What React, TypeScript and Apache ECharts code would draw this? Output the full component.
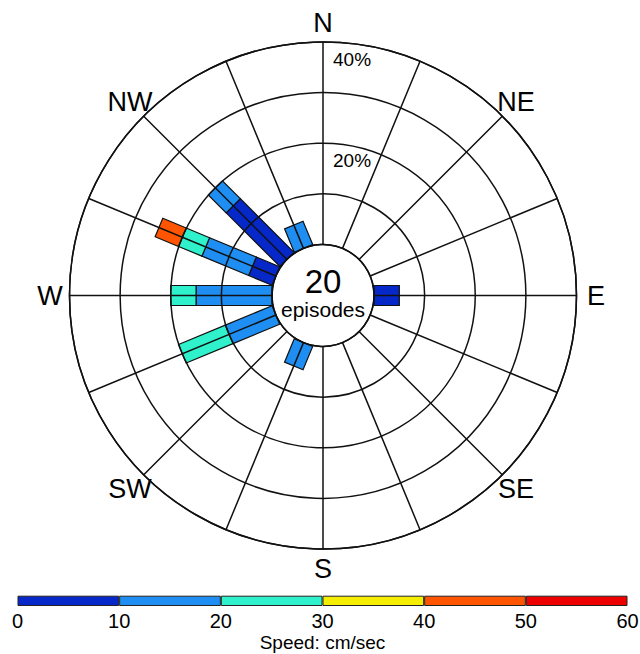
import React, { useEffect, useRef } from "react";
import * as echarts from "echarts";

// 16 compass directions (degrees clockwise from north)
const directions = [0, 22.5, 45, 67.5, 90, 112.5, 135, 157.5, 180, 202.5, 225, 247.5, 270, 292.5, 315, 337.5];
// percent of episodes per direction, per speed bin (cm/sec)
const speedBins = ["0-10", "10-20", "20-30", "30-40", "40-50", "50-60"];
const bin0to10 = [0, 0, 0, 0, 5, 0, 0, 0, 0, 0, 0, 0, 0, 5, 15, 0];
const bin10to20 = [0, 0, 0, 0, 0, 0, 0, 0, 0, 5, 0, 10, 15, 10, 5, 5];
const bin20to30 = [0, 0, 0, 0, 0, 0, 0, 0, 0, 0, 0, 10, 5, 5, 0, 0];
const bin30to40 = [0, 0, 0, 0, 0, 0, 0, 0, 0, 0, 0, 0, 0, 0, 0, 0];
const bin40to50 = [0, 0, 0, 0, 0, 0, 0, 0, 0, 0, 0, 0, 0, 5, 0, 0];
const bin50to60 = [0, 0, 0, 0, 0, 0, 0, 0, 0, 0, 0, 0, 0, 0, 0, 0];
const binColors = ["#0628c8", "#1f8ef2", "#2ff2cc", "#f6ee00", "#ff5500", "#ee0000"];
const speedTicks = [0, 10, 20, 30, 40, 50, 60];
const ringLabels = [20, 40];
const compassNames = ["N", "NE", "E", "SE", "S", "SW", "W", "NW"];
const compassAngles = [0, 45, 90, 135, 180, 225, 270, 315];
const episodes = 20;

const CX = 323;
const CY = 295.5;
const R0 = 51;
const R1 = 253.5;
const RMAX = 40;
const FONT = "Liberation Sans, Arial, Helvetica, sans-serif";

export default function App() {
  const ref = useRef<HTMLDivElement>(null);
  useEffect(() => {
    if (!ref.current) return;
    const chart = echarts.init(ref.current, undefined, { renderer: "svg" });
    const bins = [bin0to10, bin10to20, bin20to30, bin30to40, bin40to50, bin50to60];
    const roseData: number[][] = [];
    directions.forEach((ang, i) => {
      let acc = 0;
      bins.forEach((b, k) => {
        const v = b[i];
        if (v > 0) {
          roseData.push([ang, acc, acc + v, k]);
          acc += v;
        }
      });
    });
    const pct2px = (v: number) => R0 + (v / RMAX) * (R1 - R0);
    const graphics: any[] = [];
    compassNames.forEach((n, i) => {
      const a = (compassAngles[i] * Math.PI) / 180;
      const r = 273;
      graphics.push({
        type: "text",
        x: CX + r * Math.sin(a),
        y: CY - r * Math.cos(a),
        style: { text: n, fill: "#000", font: `27px ${FONT}`, align: "center", verticalAlign: "middle" },
      });
    });
    ringLabels.forEach((v) => {
      graphics.push({
        type: "text",
        x: CX + 10,
        y: CY - pct2px(v) + 17,
        style: { text: v + "%", fill: "#000", font: `19px ${FONT}`, align: "left", verticalAlign: "middle" },
      });
    });
    graphics.push({
      type: "text",
      x: CX,
      y: CY - 14.5,
      style: { text: String(episodes), fill: "#000", font: `33px ${FONT}`, align: "center", verticalAlign: "middle" },
    });
    graphics.push({
      type: "text",
      x: CX,
      y: CY + 13.5,
      style: { text: "episodes", fill: "#000", font: `21px ${FONT}`, align: "center", verticalAlign: "middle" },
    });

    const half = 10;
    const option: any = {
      animation: false,
      backgroundColor: "#fff",
      polar: { center: [CX, CY], radius: [R0, R1] },
      angleAxis: {
        type: "value",
        min: 0,
        max: 360,
        interval: 22.5,
        startAngle: 90,
        clockwise: true,
        z: 5,
        axisLine: { show: true, lineStyle: { color: "#111", width: 1.5 } },
        axisTick: { show: false },
        axisLabel: { show: false },
        splitLine: { show: true, lineStyle: { color: "#111", width: 1.5 } },
      },
      radiusAxis: {
        type: "value",
        min: 0,
        max: RMAX,
        interval: 10,
        z: 5,
        axisLine: { show: false },
        axisTick: { show: false },
        axisLabel: { show: false },
        splitLine: { show: true, lineStyle: { color: "#111", width: 1.5 } },
      },
      grid: { left: 17.5, top: 595.7, width: 610, height: 10.3, outerBoundsMode: "none", containLabel: false },
      xAxis: {
        type: "value",
        min: 0,
        max: 60,
        interval: 10,
        axisLine: { show: false },
        axisTick: { show: false },
        splitLine: { show: false },
        axisLabel: {
          show: true,
          margin: 5,
          color: "#000",
          fontSize: 20,
          fontFamily: FONT,
          formatter: (v: number) => (speedTicks.includes(v) ? String(v) : ""),
        },
        name: "Speed: cm/sec",
        nameLocation: "middle",
        nameGap: 27,
        nameTextStyle: { color: "#000", fontSize: 19, fontFamily: FONT },
      },
      yAxis: { type: "category", data: ["bar"], show: false },
      graphic: graphics,
      series: [
        {
          type: "custom",
          coordinateSystem: "polar",
          z: 1,
          encode: { angle: 0, radius: [1, 2] },
          data: roseData,
          renderItem: (params: any, api: any) => {
            const ang = api.value(0);
            const s = api.value(1);
            const e = api.value(2);
            const k = api.value(3);
            const p0 = api.coord([s, ang]);
            const p1 = api.coord([e, ang]);
            const dx = p1[0] - p0[0];
            const dy = p1[1] - p0[1];
            const len = Math.sqrt(dx * dx + dy * dy) || 1;
            const nx = (-dy / len) * half;
            const ny = (dx / len) * half;
            return {
              type: "polygon",
              shape: {
                points: [
                  [p0[0] + nx, p0[1] + ny],
                  [p1[0] + nx, p1[1] + ny],
                  [p1[0] - nx, p1[1] - ny],
                  [p0[0] - nx, p0[1] - ny],
                ],
              },
              style: { fill: binColors[k], stroke: "#111", lineWidth: 1.2 },
            };
          },
        },
        ...speedBins.map((name, k) => ({
          type: "bar",
          name,
          stack: "cb",
          xAxisIndex: 0,
          yAxisIndex: 0,
          barCategoryGap: "0%",
          data: [speedTicks[k + 1] - speedTicks[k]],
          itemStyle: { color: binColors[k], borderColor: "#222", borderWidth: 1 },
        })),
      ],
    };
    chart.setOption(option);
    return () => chart.dispose();
  }, []);
  return <div ref={ref} style={{ position: "fixed", left: 0, top: 0, width: 640, height: 654 }} />;
}
